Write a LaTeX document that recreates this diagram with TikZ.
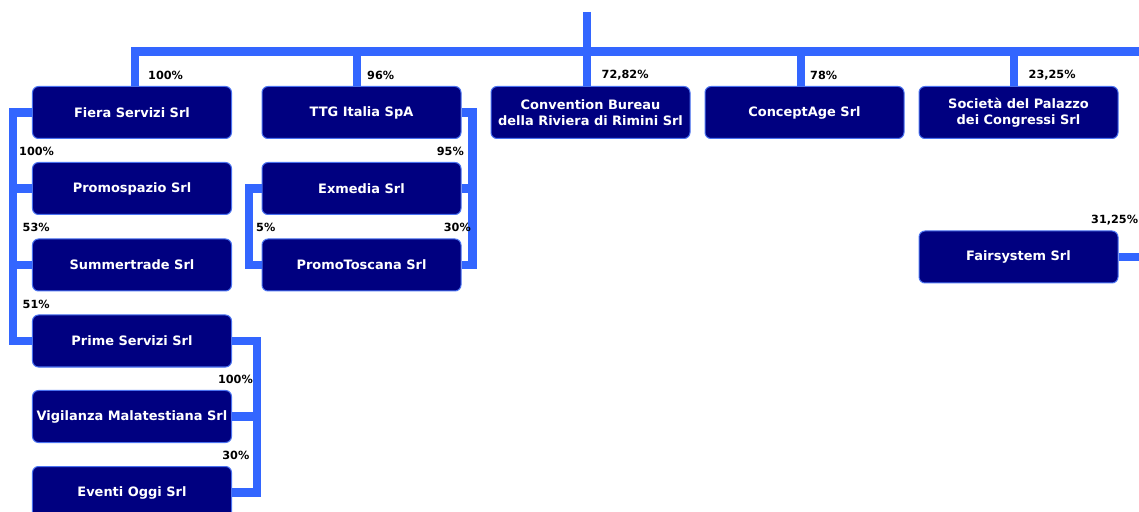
\documentclass[tikz,border=0pt]{standalone}
\usepackage{fontspec}
\setmainfont{DejaVu Sans}
\usepackage{tikz}
\definecolor{navybox}{HTML}{000080}
\definecolor{linkblue}{HTML}{3366FF}
\definecolor{rimblue}{HTML}{4A72F0}
\tikzstyle{firm}=[rectangle, rounded corners=6bp, fill=navybox, draw=rimblue, line width=1bp, minimum width=199bp, minimum height=52bp, inner sep=0pt, text=white, align=center, font=\fontsize{13}{16}\selectfont\bfseries]
\tikzstyle{link}=[draw=linkblue, line width=8.5bp]
\tikzstyle{pct}=[inner sep=0pt, font=\fontsize{11.3}{13}\selectfont\bfseries]

\begin{document}
\begin{tikzpicture}[x=1bp, y=-1bp]
      \useasboundingbox (0,0) rectangle (1139,512);
      \clip (0,0) rectangle (1139,512);
      \coordinate (root) at (587,12);
      \coordinate (busend) at (1139,51.5);
      %%%%%%%%%%%% first level
      \node(0) [firm] at (132,112.5){Fiera Servizi Srl};
      \node(1) [firm] at (361.5,112.5){TTG Italia SpA};
      \node(2) [firm] at (590.5,112.5){Convention Bureau\\della Riviera di Rimini Srl};
      \node(3) [firm] at (804.5,112.5){ConceptAge Srl};
      \node(4) [firm] at (1018.5,112.5){Società del Palazzo\\dei Congressi Srl};
      \draw[link] ([xshift=3bp]0.north) |- (busend);
      \draw[link] (root) -- (root |- 2.north);
      \draw[link] ([xshift=-4.5bp]1.north) -- ++(0,-35);
      \draw[link] ([xshift=-3.5bp]3.north) -- ++(0,-35);
      \draw[link] ([xshift=-4.5bp]4.north) -- ++(0,-35);
      \node[pct, anchor=west] (p0) at (148,75.5){100\%};
      \node[pct, anchor=west] (p1) at (367,75.5){96\%};
      \node[pct, anchor=west] (p2) at (601.5,75.5){72,82\%};
      \node[pct, anchor=west] (p3) at (810,75.5){78\%};
      \node[pct, anchor=west] (p4) at (1028.5,75.5){23,25\%};
      %%%%%%%%%%%% Fiera Servizi
      \node(5) [firm] at (132,188.5){Promospazio Srl};
      \node(6) [firm] at (132,265){Summertrade Srl};
      \node(7) [firm] at (132,341){Prime Servizi Srl};
      \node(8) [firm] at (132,416.5){Vigilanza Malatestiana Srl};
      \node(9) [firm] at (132,492.5){Eventi Oggi Srl};
      \draw[link] (0.west) -- ++(-19,0) |- (7.west);
      \draw[link] (5.west) -- ++(-19,0);
      \draw[link] (6.west) -- ++(-19,0);
      \draw[link] (7.east) -- ++(25,0) |- (9.east);
      \draw[link] (8.east) -- ++(25,0);
      \node[pct, anchor=west] (p5) at (19,151){100\%};
      \node[pct, anchor=west] (p6) at (22.5,227.5){53\%};
      \node[pct, anchor=west] (p7) at (22.5,304){51\%};
      \node[pct, anchor=east] (p8) at (253,379.5){100\%};
      \node[pct, anchor=east] (p9) at (249.5,455.5){30\%};
      %%%%%%%%%%%% TTG Italia
      \node(10) [firm] at (361.5,188.5){Exmedia Srl};
      \node(11) [firm] at (361.5,265){PromoToscana Srl};
      \draw[link] (1.east) -- ++(11,0) |- (11.east);
      \draw[link] (10.east) -- ++(11,0);
      \draw[link] (10.west) -- ++(-12.5,0) |- (11.west);
      \node[pct, anchor=east] (p10) at (464,151){95\%};
      \node[pct, anchor=east] (p11) at (471,227.5){30\%};
      \node[pct, anchor=west] (p12) at (256,227.5){5\%};
      %%%%%%%%%%%% Fairsystem
      \node(12) [firm] at (1018.5,257){Fairsystem Srl};
      \draw[link] (12.east) -- (12.east -| busend);
      \node[pct, anchor=west] (p13) at (1091,220){31,25\%};
\end{tikzpicture}
\end{document}
